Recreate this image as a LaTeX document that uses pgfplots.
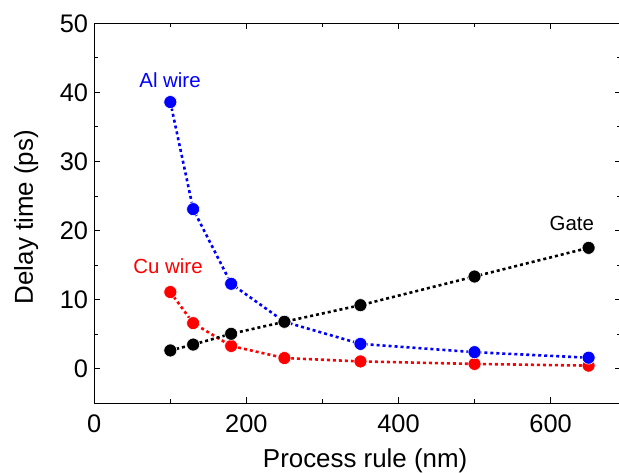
\documentclass[border=0pt]{standalone}
\usepackage{pgfplots}
\pgfplotsset{compat=1.18}
\usepackage{fontspec}
\setmainfont{Liberation Sans}
\begin{document}
\begin{tikzpicture}
\begin{axis}[
  name=ax,
  scale only axis,
  width=527bp, height=380bp,
  xmin=0, xmax=693, ymin=-5, ymax=50,
  xtick={0,200,400,600}, minor xtick={100,300,500},
  ytick={0,10,20,30,40,50}, minor ytick={-5,5,15,25,35,45},
  tick align=inside,
  major tick length=6bp, minor tick length=4bp,
  every tick/.style={black, line width=1pt},
  axis line style={line width=1.3pt},
  /pgf/number format/assume math mode=true,
  ticklabel style={font=\fontsize{25.5}{30}\selectfont, inner sep=0pt},
  xticklabel style={yshift=-11bp},
  yticklabel style={xshift=-6bp},
  label style={font=\fontsize{26}{30}\selectfont, inner sep=0pt},
  xlabel={Process rule (nm)},
  ylabel={Delay time (ps)},
  xlabel style={at={([yshift=-64bp]axis description cs:0.514,0)}, anchor=base},
  ylabel style={at={([xshift=-61.3bp]axis description cs:0,0.49)}, anchor=base, rotate=0},
  clip=false,
]
\addplot[red, line width=2.6pt, dash pattern=on 3bp off 3bp,
  mark=*, mark size=6.5bp, mark options={solid, fill=red, draw=white, line width=0.6pt}]
  coordinates {(100,11.1) (130,6.6) (180,3.3) (250,1.55) (350,1.06) (500,0.7) (650,0.45)};
\addplot[blue, line width=2.6pt, dash pattern=on 3bp off 3bp,
  mark=*, mark size=6.5bp, mark options={solid, fill=blue, draw=white, line width=0.6pt}]
  coordinates {(100,38.6) (130,23.1) (180,12.3) (250,6.8) (350,3.6) (500,2.4) (650,1.6)};
\addplot[black, line width=2.6pt, dash pattern=on 3bp off 3bp,
  mark=*, mark size=6.5bp, mark options={solid, fill=black, draw=white, line width=0.6pt}]
  coordinates {(100,2.65) (130,3.5) (180,5.06) (250,6.8) (350,9.2) (500,13.35) (650,17.5)};
\node[blue, font=\fontsize{20.5}{24}\selectfont, inner sep=0pt] at (axis cs:99.6,41.8) {Al wire};
\node[red, font=\fontsize{20.5}{24}\selectfont, inner sep=0pt] at (axis cs:97,14.9) {Cu wire};
\node[black, font=\fontsize{20.5}{24}\selectfont, inner sep=0pt] at (axis cs:628,21.1) {Gate};
\end{axis}
\pgfresetboundingbox
\path ([xshift=-94.3bp,yshift=-69.3bp]ax.south west) rectangle ([xshift=-2.3bp,yshift=23.3bp]ax.north east);
\end{tikzpicture}
\end{document}
